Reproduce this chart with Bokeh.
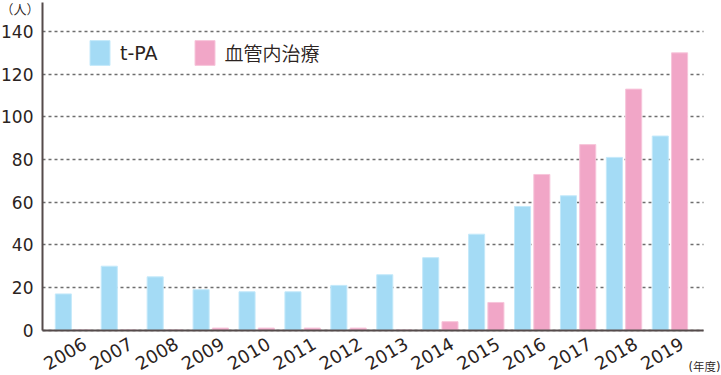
import math
from bokeh.plotting import figure
from bokeh.models import Range1d, FixedTicker, Legend, LegendItem, Label, ColumnDataSource
from bokeh.transform import dodge
from bokeh.embed import file_html
from bokeh.resources import INLINE

years = ["2006", "2007", "2008", "2009", "2010", "2011", "2012", "2013",
         "2014", "2015", "2016", "2017", "2018", "2019"]
tpa = [17, 30, 25, 19, 18, 18, 21, 26, 34, 45, 58, 63, 81, 91]
endo = [0, 0, 0, 1, 1, 1, 1, 0, 4, 13, 73, 87, 113, 130]
y_ticks = [0, 20, 40, 60, 80, 100, 120, 140]
series_names = ["t-PA", "血管内治療"]

NUMFONT = "'DejaVu Sans'"
JPFONT = "'DejaVu Sans', 'Noto Sans CJK JP DemiLight', 'Noto Sans CJK JP'"
BLUE = "#a4dbf5"
PINK = "#f1a6c7"
AXIS = "#554b4b"
TXT = "#2b2321"

# plotting frame spans the whole canvas; axes are pinned inside it
X0, X1 = -0.664, 13.73          # extent of the drawn chart area (category units)
PXX = 45.92                     # px per category
PXY = 2.1335                    # px per person
xr = Range1d(X0 - 42 / PXX, X0 + (721 - 42) / PXX)
yr = Range1d(-(375 - 329.7) / PXY, 329.7 / PXY)

idx = list(range(len(years)))
src = ColumnDataSource(dict(x=idx, tpa=tpa, endo=endo))

p = figure(width=721, height=375, output_backend="svg", toolbar_location=None,
           x_range=xr, y_range=yr,
           min_border_left=0, min_border_right=0, min_border_top=0, min_border_bottom=0)
p.outline_line_color = None
p.background_fill_color = "white"

r1 = p.vbar(x=dodge("x", -0.21), top="tpa", width=0.35, bottom=0, source=src,
            fill_color=BLUE, line_color="#c4e9fa", line_width=1)
r2 = p.vbar(x=dodge("x", 0.21), top="endo", width=0.35, bottom=0, source=src,
            fill_color=PINK, line_color="#f7c6db", line_width=1)

# axes
xa = p.xaxis[0]
ya = p.yaxis[0]
xa.fixed_location = 0
xa.bounds = (X0, X1)
ya.fixed_location = X0
ya.bounds = (0, 153.5)
LABEL_SHIFT = 0.26   # rotated year labels sit slightly right of the bar pairs
tick_pos = [i + LABEL_SHIFT for i in idx]
xa.ticker = FixedTicker(ticks=tick_pos)
xa.major_label_overrides = {t: y for t, y in zip(tick_pos, years)}
xa.major_label_orientation = math.pi / 6
ya.ticker = FixedTicker(ticks=y_ticks)
for ax in (xa, ya):
    ax.axis_line_color = AXIS
    ax.axis_line_width = 2
    ax.major_tick_line_color = None
    ax.minor_tick_line_color = None
    ax.major_tick_out = 0
    ax.major_tick_in = 0
    ax.major_label_text_font = NUMFONT
    ax.major_label_text_color = TXT
ya.major_label_text_font_size = "17px"
xa.major_label_text_font_size = "18px"
ya.major_label_standoff = 9
xa.major_label_standoff = 12

p.xgrid.grid_line_color = None
p.ygrid.grid_line_color = "#6e6e6e"
p.ygrid.grid_line_dash = "3 3"
p.ygrid.grid_line_width = 1.3
p.ygrid.bounds = (20, 140)
try:
    p.ygrid.cross_bounds = (X0, X1)
except Exception:
    pass

legend = Legend(items=[LegendItem(label=series_names[0], renderers=[r1]),
                       LegendItem(label=series_names[1], renderers=[r2])],
                orientation="horizontal", location=(87, 307),
                glyph_width=25, glyph_height=31, label_standoff=8, spacing=34,
                padding=0, margin=0, border_line_color=None, background_fill_alpha=0,
                label_text_font=JPFONT, label_text_font_size="19px", label_text_color=TXT)
p.add_layout(legend, "center")

p.add_layout(Label(x=xr.start, y=yr.end - 1 / PXY, text="（人）", text_font=JPFONT,
                   text_font_size="13px", text_color=TXT,
                   text_align="left", text_baseline="top"))
p.add_layout(Label(x=X0 + (688 - 42) / PXX, y=-(366 - 329.7) / PXY, text="(年度)",
                   text_font=JPFONT, text_font_size="11.5px", text_color=TXT,
                   text_align="left", text_baseline="middle"))

open("out.html", "w").write(file_html(p, INLINE))
